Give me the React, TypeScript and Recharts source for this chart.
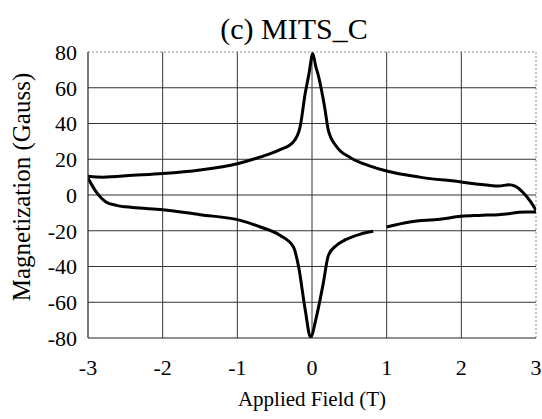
import React from "react";
import { LineChart, Line, XAxis, YAxis, ReferenceLine } from "recharts";

const xTicks = [-3, -2, -1, 0, 1, 2, 3];
const yTicks = [-80, -60, -40, -20, 0, 20, 40, 60, 80];

// Upper branch (increasing field)
const upperX = [-3, -2.8, -2.4, -2, -1.5, -1, -0.69, -0.45, -0.25, -0.16, -0.09, -0.04, 0.01, 0.05, 0.09, 0.17, 0.22, 0.33, 0.51, 0.77, 1.0, 1.44, 2.0, 2.24, 2.5, 2.64, 2.72, 2.82, 2.93, 3.0];
const upperY = [10.5, 10, 11, 12, 14, 17.5, 21.3, 25, 29.7, 38, 57, 68, 79, 72, 66, 49, 36, 27, 21, 16.3, 13.4, 10, 7.3, 6, 5, 5.8, 5, 1.7, -3.9, -8.6];

// Lower branch (with a gap near 0.9 T)
const lowerX = [-3, -2.89, -2.76, -2.62, -2.4, -2, -1.5, -0.96, -0.69, -0.43, -0.25, -0.18, -0.09, -0.02, 0.06, 0.15, 0.22, 0.33, 0.45, 0.64, 0.82, 0.9, 1.0, 1.31, 1.71, 2.0, 2.24, 2.5, 2.86, 3.0];
const lowerY: (number | null)[] = [9.5, 1.7, -3.9, -5.8, -7, -8.2, -11, -14.2, -17.9, -22.5, -29, -40, -64.5, -79.5, -68, -49.6, -33.7, -28.1, -25, -22, -20.3, null, -17.9, -15.1, -13.6, -11.9, -11.4, -11, -9.5, -9.5];

const upperData = upperX.map((x, i) => ({ x, y: upperY[i] }));
const lowerData = lowerX.map((x, i) => ({ x, y: lowerY[i] }));

const serif = '"Liberation Serif", "Times New Roman", Times, serif';

const XTick = (props: any) => {
  const { x, y, payload } = props;
  return (
    <text x={x} y={y} dy="0.71em" textAnchor="middle" fill="#000" style={{ fontFamily: serif, fontSize: 22 }}>
      {payload.value}
    </text>
  );
};

const YTick = (props: any) => {
  const { x, y, payload } = props;
  return (
    <text x={x} y={y} dy="0.355em" textAnchor="end" fill="#000" style={{ fontFamily: serif, fontSize: 22 }}>
      {payload.value}
    </text>
  );
};

export default function App() {
  return (
    <div style={{ position: "absolute", left: 0, top: 0, width: 542, height: 419, background: "#fff", fontFamily: serif }}>
      <div style={{ position: "absolute", left: 194, top: 14, width: 200, textAlign: "center", fontSize: 30, lineHeight: "30px", color: "#000", whiteSpace: "nowrap", fontFamily: serif }}>
        (c) MITS_C
      </div>
      <div style={{ position: "absolute", left: 212, top: 389, width: 200, textAlign: "center", fontSize: 21, lineHeight: "21px", color: "#000", whiteSpace: "nowrap", fontFamily: serif }}>
        Applied Field (T)
      </div>
      <div style={{ position: "absolute", left: -128, top: 174, width: 300, height: 26, textAlign: "center", fontSize: 25, lineHeight: "26px", color: "#000", whiteSpace: "nowrap", transform: "rotate(-90deg)", fontFamily: serif }}>
        Magnetization (Gauss)
      </div>
      <LineChart width={542} height={419} margin={{ top: 52, right: 6, bottom: 41, left: 0 }} style={{ fontFamily: serif }}>
        <XAxis
          type="number"
          dataKey="x"
          domain={[-3, 3]}
          ticks={xTicks}
          allowDataOverflow
          tickLine={false}
          tickSize={0}
          tickMargin={21}
          height={40}
          axisLine={{ stroke: "#222", strokeWidth: 1.2 }}
          tick={<XTick />}
        />
        <YAxis
          type="number"
          dataKey="y"
          domain={[-80, 80]}
          ticks={yTicks}
          allowDataOverflow
          tickLine={false}
          tickSize={0}
          tickMargin={11}
          width={88}
          axisLine={{ stroke: "#222", strokeWidth: 1.2 }}
          tick={<YTick />}
        />
        {yTicks.filter((v) => v !== 80 && v !== -80).map((v) => (
          <ReferenceLine key={"h" + v} y={v} stroke="#333" strokeWidth={1} />
        ))}
        {xTicks.filter((v) => v !== 3 && v !== -3).map((v) => (
          <ReferenceLine key={"v" + v} x={v} stroke="#333" strokeWidth={1} />
        ))}
        <ReferenceLine y={80} stroke="#888" strokeWidth={1} strokeDasharray="2 2" />
        <ReferenceLine x={3} stroke="#888" strokeWidth={1} strokeDasharray="2 2" />
        <Line data={upperData} dataKey="y" type="monotone" stroke="#000" strokeWidth={3} dot={false} isAnimationActive={false} />
        <Line data={lowerData} dataKey="y" type="monotone" stroke="#000" strokeWidth={3} dot={false} connectNulls={false} isAnimationActive={false} />
      </LineChart>
    </div>
  );
}
